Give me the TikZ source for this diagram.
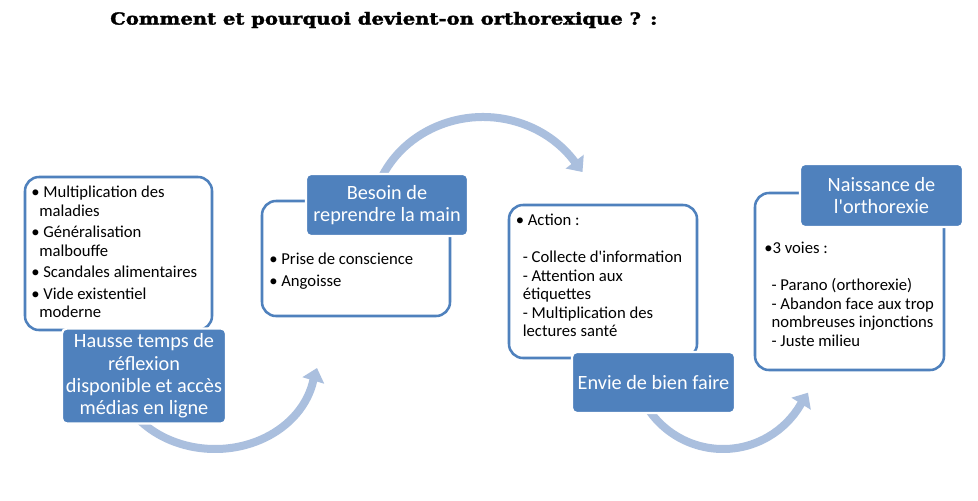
\documentclass[tikz,border=0pt]{standalone}
\usepackage{graphicx}
\usepackage{fontspec}
\setmainfont{Carlito}
\newfontfamily\titlefont[FakeBold=1.6]{DejaVu Serif Bold}
\usetikzlibrary{arrows.meta,fit}
\definecolor{boxblue}{HTML}{4F81BD}
\definecolor{arrowblue}{HTML}{AABFDE}
\begin{document}
\begin{tikzpicture}[x=0.75pt,y=-0.75pt,
  wbox/.style={draw=boxblue, line width=1.9pt, rounded corners=10.5pt, fill=white, inner sep=0pt},
  bbox/.style={fill=boxblue, draw=white, line width=1.6pt, rounded corners=3.75pt, text=white,
    align=center, inner sep=0pt, font=\fontsize{15.2}{16.8}\selectfont},
  wtext/.style={anchor=north west, align=left, inner sep=0pt, font=\fontsize{12.5}{13.9}\selectfont},
  flow/.style={draw=arrowblue, line width=6pt, -{Triangle[length=9.75pt, width=16.5pt]}}]
\useasboundingbox[fill=white] (0,0) rectangle (978,500);

% title
\node[anchor=west, inner sep=0pt] (title) at (110,20)
  {\scalebox{1.175}[1]{\titlefont\fontsize{12.5}{15}\selectfont Comment et pourquoi devient-on orthorexique ? :}};

% arrows (behind the boxes)
\coordinate (c1) at (215,365);
\coordinate (tip1) at (317,368);
\draw[flow] (c1) ++(150:100 and 84) arc[start angle=150, end angle=10.6, x radius=100, y radius=84] -- (tip1);

\coordinate (c2) at (483,222);
\coordinate (tip2) at (582.5,172);
\draw[flow] (c2) ++(200:112 and 105) arc[start angle=200, end angle=325, x radius=112, y radius=105] -- (tip2);

\coordinate (c3) at (723,359);
\coordinate (tip3) at (808,392.7);
\draw[flow] (c3) ++(150:90) arc[start angle=150, end angle=30, radius=90] -- (tip3);

% white boxes
\node[wbox, fit={(25,177)(212,330)}] (w1) {};
\node[wbox, fit={(262,201)(450,316)}] (w2) {};
\node[wbox, fit={(509,205)(697,358)}] (w3) {};
\node[wbox, fit={(755,193)(944,370)}] (w4) {};

% texts in white boxes
\node[wtext] (t1) at (31,186) {%
\textbullet\ Multiplication des\\
\hspace*{6pt}maladies\\[2.2pt]
\textbullet\ Généralisation\\
\hspace*{6pt}malbouffe\\[2.2pt]
\textbullet\ Scandales alimentaires\\[2.2pt]
\textbullet\ Vide existentiel\\
\hspace*{6pt}moderne};

\node[wtext] (t2) at (269,253) {%
\textbullet\ Prise de conscience\\[2.4pt]
\textbullet\ Angoisse};

\node[wtext] (t3) at (515.5,214) {%
\textbullet\ Action :\\
\mbox{}\\
\hspace*{5.3pt}- Collecte d\textquotesingle information\\
\hspace*{5.3pt}- Attention aux\\
\hspace*{5.3pt}étiquettes\\
\hspace*{5.3pt}- Multiplication des\\
\hspace*{5.3pt}lectures santé};

\node[wtext] (t4) at (764,242) {%
\textbullet 3 voies :\\
\mbox{}\\
\hspace*{5.5pt}- Parano (orthorexie)\\
\hspace*{5.5pt}- Abandon face aux trop\\
\hspace*{5.5pt}nombreuses injonctions\\
\hspace*{5.5pt}- Juste milieu};

% blue boxes
\node[bbox, minimum width=123pt, minimum height=71.25pt] (b1) at (144,376)
  {Hausse temps de\\réflexion\\disponible et accès\\médias en ligne};
\node[bbox, minimum width=121.5pt, minimum height=46.5pt] (b2) at (387,205)
  {Besoin de\\reprendre la main};
\node[bbox, minimum width=122.25pt, minimum height=45.75pt] (b3) at (653.5,382.5)
  {Envie de bien faire};
\node[bbox, minimum width=122.25pt, minimum height=47.25pt] (b4) at (881.5,195.5)
  {Naissance de\\l\textquotesingle orthorexie};
\end{tikzpicture}
\end{document}
